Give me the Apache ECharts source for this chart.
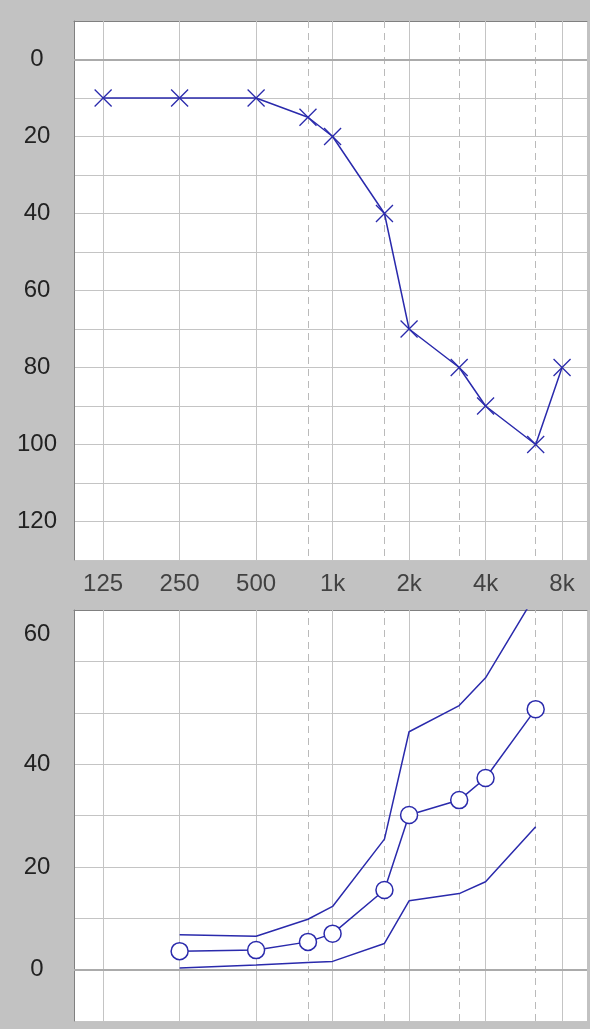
<!DOCTYPE html>
<html>
<head>
<meta charset="utf-8">
<script src="https://cdn.jsdelivr.net/npm/echarts@6/dist/echarts.min.js"></script>
<style>
  html, body { margin: 0; padding: 0; background: #c2c2c2; }
  #chart { width: 590px; height: 1029px; }
</style>
</head>
<body>
<div id="chart"></div>
<script>
// Frequency axis (Hz): labelled octaves and the intermediate bands between them
const freqTicks = [125, 250, 500, 1000, 2000, 4000, 8000];
const freqTickLabels = ['125', '250', '500', '1k', '2k', '4k', '8k'];
const interFreqs = [800, 1600, 3150, 6300];

// Upper panel: hearing threshold (dB HL)
const thresholdFreqs = [125, 250, 500, 800, 1000, 1600, 2000, 3150, 4000, 6300, 8000];
const thresholdDb = [10, 10, 10, 15, 20, 40, 70, 80, 90, 100, 80];
const topTickLabels = [0, 20, 40, 60, 80, 100, 120];

// Lower panel: reference curves (median with upper and lower bounds)
const curveFreqs = [250, 500, 800, 1000, 1600, 2000, 3150, 4000, 6300];
const medianCurve = [3.6, 3.8, 5.4, 7.0, 15.5, 30.1, 33.0, 37.3, 50.7];
const upperCurve = [6.8, 6.5, 9.8, 12.3, 25.4, 46.3, 51.4, 56.8, 73];
const lowerCurve = [0.3, 0.9, 1.4, 1.6, 5.1, 13.4, 14.8, 17.1, 27.8];
const bottomTickLabels = [0, 20, 40, 60];

const BLUE = '#2a2aac';
const GRID_LINE = '#c4c4c4';
const DASH_LINE = '#bababa';
const FRAME = '#808080';
const FONT = 'Liberation Sans, Arial, sans-serif';
const TEXT = '#222222';

const pairs = (xs, ys) => xs.map((x, i) => [x, ys[i]]);

function xAxisFor(gridIndex) {
  return {
    type: 'log', logBase: 2, gridIndex, position: 'top',
    min: 96, max: 10030,
    axisLine: { show: true, onZero: false, lineStyle: { color: FRAME, width: 1 } },
    axisTick: { show: false }, axisLabel: { show: false }, splitLine: { show: false }
  };
}

// raised: the topmost label of the lower panel sits above its grid line
function yAxisFor(gridIndex, min, max, inverse, labels, raised) {
  return {
    type: 'value', gridIndex, min, max, interval: 10, inverse,
    axisLine: { show: true, onZero: false, lineStyle: { color: FRAME, width: 1 } },
    axisTick: { show: false },
    axisLabel: {
      color: TEXT, fontFamily: FONT, fontSize: 24, align: 'center', margin: 37,
      formatter: v => {
        if (!labels.includes(v)) return '';
        return v === raised ? '{up|' + v + '}' : String(v);
      },
      rich: {
        up: { color: TEXT, fontFamily: FONT, fontSize: 24, padding: [0, 0, 54, 0] }
      }
    },
    splitLine: { show: true, lineStyle: { color: GRID_LINE, width: 1 } }
  };
}

// Vertical frequency lines plus the heavier 0 dB reference line
function gridLines(xi, yi) {
  return {
    type: 'line', xAxisIndex: xi, yAxisIndex: yi, data: [], silent: true, z: 1,
    markLine: {
      silent: true, symbol: 'none', z: 1, animation: false,
      label: { show: false },
      data: [
        ...freqTicks.map(f => ({ xAxis: f, lineStyle: { color: GRID_LINE, width: 1, type: 'solid' } })),
        ...interFreqs.map(f => ({ xAxis: f, lineStyle: { color: DASH_LINE, width: 1, type: [7, 5] } })),
        { yAxis: 0, lineStyle: { color: '#ababab', width: 2, type: 'solid' } }
      ]
    }
  };
}

const chart = echarts.init(document.getElementById('chart'), null, { renderer: 'canvas' });

chart.setOption({
  animation: false,
  backgroundColor: '#c2c2c2',
  grid: [
    { left: 74, top: 21, width: 513, height: 539, show: true, backgroundColor: '#ffffff', borderWidth: 0 },
    { left: 74, top: 610, width: 513, height: 411, show: true, backgroundColor: '#ffffff', borderWidth: 0 }
  ],
  xAxis: [xAxisFor(0), xAxisFor(1)],
  yAxis: [
    yAxisFor(0, -10, 130, true, topTickLabels, null),
    yAxisFor(1, -10, 70, false, bottomTickLabels, 60)
  ],
  series: [
    gridLines(0, 0),
    gridLines(1, 1),
    {
      name: 'Frequency labels', type: 'scatter', xAxisIndex: 0, yAxisIndex: 0,
      clip: false, silent: true, symbolSize: 1, z: 2,
      itemStyle: { color: 'transparent' },
      data: freqTicks.map(f => [f, 130]),
      label: {
        show: true, position: 'bottom', distance: 12,
        color: TEXT, fontFamily: FONT, fontSize: 24,
        formatter: p => freqTickLabels[p.dataIndex]
      }
    },
    {
      name: 'Threshold', type: 'line', xAxisIndex: 0, yAxisIndex: 0, z: 3,
      data: pairs(thresholdFreqs, thresholdDb),
      symbol: 'path://M0,0L10,10M10,0L0,10', symbolSize: 17,
      itemStyle: { color: BLUE, borderColor: BLUE, borderWidth: 1.3 },
      lineStyle: { color: BLUE, width: 1.5 }
    },
    {
      name: 'Upper', type: 'line', xAxisIndex: 1, yAxisIndex: 1, z: 3,
      data: pairs(curveFreqs, upperCurve), showSymbol: false, symbol: 'none',
      lineStyle: { color: BLUE, width: 1.5 }
    },
    {
      name: 'Lower', type: 'line', xAxisIndex: 1, yAxisIndex: 1, z: 3,
      data: pairs(curveFreqs, lowerCurve), showSymbol: false, symbol: 'none',
      lineStyle: { color: BLUE, width: 1.5 }
    },
    {
      name: 'Median', type: 'line', xAxisIndex: 1, yAxisIndex: 1, z: 4,
      data: pairs(curveFreqs, medianCurve),
      symbol: 'circle', symbolSize: 17,
      itemStyle: { color: '#ffffff', borderColor: BLUE, borderWidth: 1.5 },
      lineStyle: { color: BLUE, width: 1.5 }
    }
  ]
});
</script>
</body>
</html>
